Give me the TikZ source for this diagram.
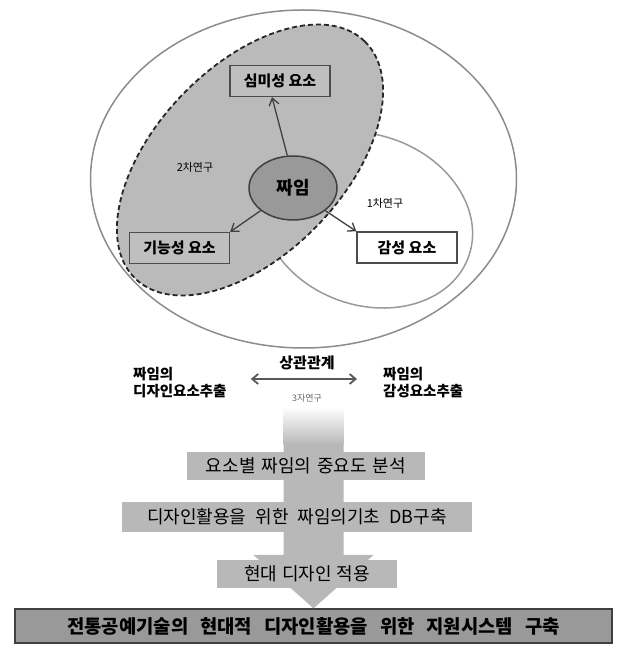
\documentclass[tikz,border=0pt]{standalone}
\usepackage{fontspec}
\setmainfont{Noto Sans CJK KR}
\usetikzlibrary{arrows.meta,shapes.geometric}
\begin{document}
\begin{tikzpicture}[x=1pt,y=1pt,
  elembox/.style={draw=black!70, line width=1.3pt, minimum width=100pt, minimum height=31pt, inner sep=0pt, font=\fontsize{15}{18}\selectfont\bfseries},
  flowbox/.style={fill=black!28, inner sep=0pt, minimum height=28pt, font=\fontsize{18}{21}\selectfont},
  arr/.style={draw=black!75, line width=1.3pt, -{Straight Barb[length=7pt,width=10pt]}},
  dblarr/.style={draw=black!65, line width=1.8pt, {Straight Barb[length=6pt,width=10pt]}-{Straight Barb[length=6pt,width=10pt]}},
  lbl/.style={inner sep=1pt, font=\fontsize{11}{13}\selectfont},
]
\useasboundingbox (0,0) rectangle (618,645);
% outer ellipse
\draw[black!45, line width=1.5pt] (303.5,466) ellipse [x radius=213, y radius=169];
% first-stage ellipse
\draw[black!40, line width=1.5pt, rotate around={-20:(367,425)}] (367,425) ellipse [x radius=108, y radius=85];
% second-stage dashed ellipse
\draw[fill=black!27, draw=black!85, line width=1.8pt, dash pattern=on 5pt off 3pt, rotate around={46:(250,485)}] (250,485) ellipse [x radius=165, y radius=94];

\node[ellipse, draw=black!75, line width=1.5pt, fill=black!40, minimum width=88pt, minimum height=64pt, inner sep=0pt, font=\fontsize{18}{20}\selectfont\bfseries] (jj) at (293,457) {짜임};
\node[elembox, fill=black!25] (sim) at (280,564) {심미성 요소};
\node[elembox, fill=black!25] (gn) at (179.5,397) {기능성 요소};
\node[elembox, fill=white] (gs) at (407,397.5) {감성 요소};
\node[lbl] (l2) at (195,478) {2차연구};
\node[lbl] (l1) at (385,442) {1차연구};

\draw[arr] (jj.100) -- ([xshift=-8pt]sim.south);
\draw[arr] (jj.215) -- (gn.north east);
\draw[arr] (jj.-35) -- (gs.north west);

% lower part
\node[font=\fontsize{15}{17}\selectfont\bfseries] (rel) at (307,282) {상관관계};
\node[inner sep=1pt, font=\fontsize{9}{11}\selectfont, text=black!60] (l3) at (307,247) {3자연구};
\node[anchor=west, align=left, inner sep=0pt, font=\fontsize{14.5}{17}\selectfont\bfseries] (dl) at (133,262) {짜임의\\디자인요소추출};
\node[anchor=west, align=left, inner sep=0pt, font=\fontsize{14.5}{17}\selectfont\bfseries] (dr) at (383,262) {짜임의\\감성요소추출};
\draw[dblarr] ([xshift=24pt,yshift=4pt]dl.east) -- ([xshift=-26pt,yshift=4pt]dr.west);

\node[fill=black!40, draw=black!75, line width=1.2pt, minimum width=597pt, minimum height=34pt, inner sep=0pt, font=\fontsize{18.8}{22}\selectfont\bfseries] (f4) at (313.5,19) {전통공예기술의\hspace{12pt}현대적\hspace{12pt}디자인활용을\hspace{12pt}위한\hspace{12pt}지원시스템\hspace{12pt}구축};

% big downward arrow
\coordinate (tip) at (f4.north);
\shade[top color=white, bottom color=black!28] ([xshift=-30pt]tip |- 0,200) rectangle ([xshift=30pt]tip |- 0,238);
\fill[black!28] ([xshift=-30pt]tip |- 0,200.5) -- ([xshift=-30pt]tip |- 0,90) -- ([xshift=-60pt]tip |- 0,90) -- (tip) -- ([xshift=60pt]tip |- 0,90) -- ([xshift=30pt]tip |- 0,90) -- ([xshift=30pt]tip |- 0,200.5) -- cycle;

\node[flowbox, minimum width=238pt] (f1) at (306,179) {요소별\hspace{6pt}짜임의\hspace{6pt}중요도\hspace{6pt}분석};
\node[flowbox, minimum width=350pt, minimum height=30pt] (f2) at (297,128) {디자인활용을\hspace{9pt}위한\hspace{9pt}짜임의기초\hspace{9pt}DB구축};
\node[flowbox, minimum width=180pt] (f3) at (307,71) {현대\hspace{5pt}디자인\hspace{5pt}적용};
\end{tikzpicture}
\end{document}
